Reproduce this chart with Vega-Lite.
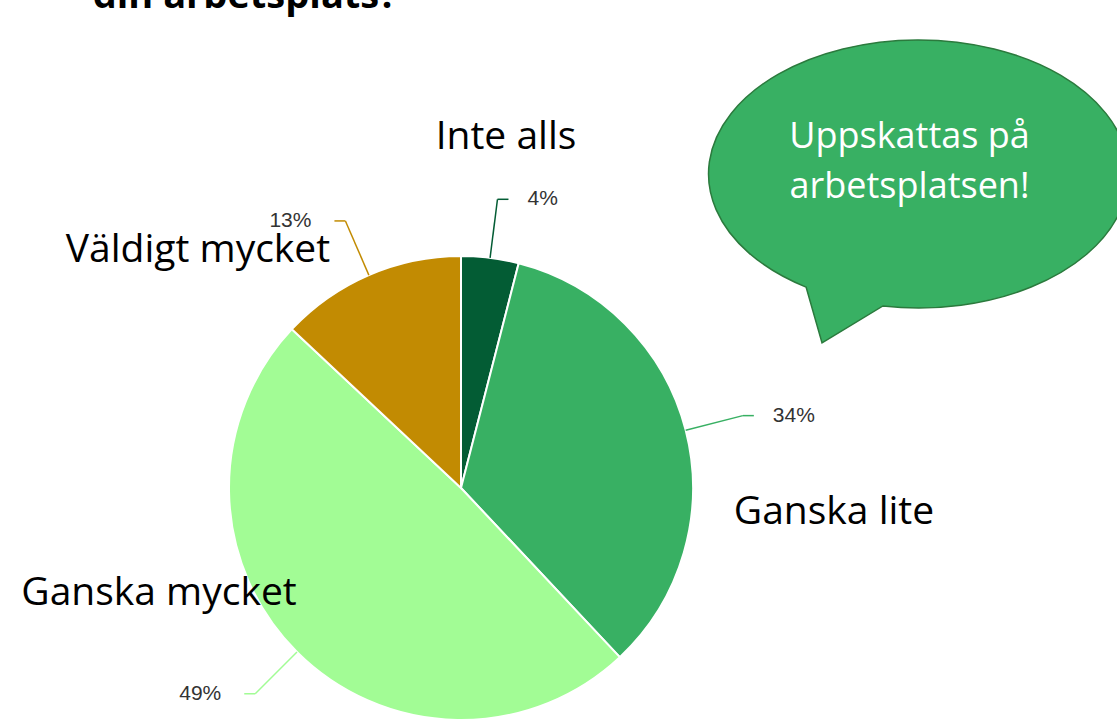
{
  "$schema": "https://vega.github.io/schema/vega-lite/v6.json",
  "autosize": {"type": "none"},
  "width": 464,
  "height": 464,
  "padding": {"left": 229, "top": 256, "right": 424, "bottom": 1},
  "background": "white",
  "config": {"view": {"stroke": null}},
  "data": {
    "values": [
      {"svar": "Inte alls", "andel": 0.04, "ordning": 1},
      {"svar": "Ganska lite", "andel": 0.34, "ordning": 2},
      {"svar": "Ganska mycket", "andel": 0.49, "ordning": 3},
      {"svar": "Väldigt mycket", "andel": 0.13, "ordning": 4}
    ]
  },
  "layer": [
    {
      "data": {"values": [{"t": "Uppskattas på arbetsplatsen!"}]},
      "mark": {
        "type": "point",
        "shape": "M -0.483 0.548 L -0.407 0.814 L -0.117 0.638 A 1 0.638 0 1 0 -0.483 0.548 Z",
        "x": 678.5,
        "y": -84,
        "size": 176400,
        "filled": true,
        "fill": "#38b063",
        "stroke": "#2b7a3d",
        "strokeWidth": 1.5,
        "opacity": 1
      },
      "encoding": {}
    },
    {
      "data": {"values": [{"rad1": "Uppskattas på", "rad2": "arbetsplatsen!"}]},
      "mark": {
        "type": "text",
        "text": ["Uppskattas på", "arbetsplatsen!"],
        "x": 680.5,
        "y": -108,
        "align": "center",
        "baseline": "alphabetic",
        "lineHeight": 50,
        "font": "Open Sans",
        "fontSize": 36,
        "color": "white"
      },
      "encoding": {}
    },
    {
      "data": {"values": [{"rubrik": "din arbetsplats?"}]},
      "mark": {
        "type": "text",
        "x": 16,
        "y": -248,
        "align": "center",
        "baseline": "alphabetic",
        "font": "Open Sans",
        "fontWeight": "bold",
        "fontSize": 38,
        "color": "black"
      },
      "encoding": {"text": {"field": "rubrik"}}
    },
    {
      "mark": {"type": "arc", "stroke": "white", "strokeWidth": 2, "outerRadius": 232},
      "encoding": {
        "theta": {"field": "andel", "type": "quantitative", "stack": true},
        "order": {"field": "ordning", "type": "quantitative"},
        "color": {
          "field": "svar",
          "type": "nominal",
          "scale": {
            "domain": ["Inte alls", "Ganska lite", "Ganska mycket", "Väldigt mycket"],
            "range": ["#035c34", "#38b063", "#a2fc95", "#c28b02"]
          },
          "legend": null
        }
      }
    },
    {
      "transform": [
        {"window": [{"op": "sum", "field": "andel", "as": "kum"}], "sort": [{"field": "ordning"}]},
        {"calculate": "2*PI*(datum.kum - datum.andel/2)", "as": "mid"},
        {"calculate": "232*sin(datum.mid)", "as": "x0"},
        {"calculate": "232*cos(datum.mid)", "as": "y0"},
        {"calculate": "291*sin(datum.mid)", "as": "x1"},
        {"calculate": "291*cos(datum.mid)", "as": "y1"}
      ],
      "mark": {"type": "rule", "strokeWidth": 1.5},
      "encoding": {
        "x": {"field": "x0", "type": "quantitative", "scale": {"domain": [-232, 232], "nice": false, "zero": false}, "axis": null},
        "y": {"field": "y0", "type": "quantitative", "scale": {"domain": [-232, 232], "nice": false, "zero": false}, "axis": null},
        "x2": {"field": "x1"},
        "y2": {"field": "y1"},
        "color": {"field": "svar", "type": "nominal", "legend": null}
      }
    },
    {
      "transform": [
        {"window": [{"op": "sum", "field": "andel", "as": "kum"}], "sort": [{"field": "ordning"}]},
        {"calculate": "2*PI*(datum.kum - datum.andel/2)", "as": "mid"},
        {"calculate": "291*sin(datum.mid)", "as": "x1"},
        {"calculate": "291*cos(datum.mid)", "as": "y1"},
        {"calculate": "datum.x1 + (datum.x1 > 0 ? 11 : -11)", "as": "x2"}
      ],
      "mark": {"type": "rule", "strokeWidth": 1.5},
      "encoding": {
        "x": {"field": "x1", "type": "quantitative"},
        "y": {"field": "y1", "type": "quantitative"},
        "x2": {"field": "x2"},
        "y2": {"field": "y1"},
        "color": {"field": "svar", "type": "nominal", "legend": null}
      }
    },
    {
      "transform": [
        {"window": [{"op": "sum", "field": "andel", "as": "kum"}], "sort": [{"field": "ordning"}]},
        {"calculate": "2*PI*(datum.kum - datum.andel/2)", "as": "mid"},
        {"calculate": "291*sin(datum.mid)", "as": "x1"},
        {"calculate": "291*cos(datum.mid)", "as": "y1"},
        {"filter": "datum.x1 > 0"}
      ],
      "mark": {"type": "text", "align": "left", "baseline": "middle", "dx": 30, "font": "Liberation Sans", "fontSize": 21, "color": "#333333"},
      "encoding": {
        "x": {"field": "x1", "type": "quantitative"},
        "y": {"field": "y1", "type": "quantitative"},
        "text": {"field": "andel", "type": "quantitative", "format": ".0%"}
      }
    },
    {
      "transform": [
        {"window": [{"op": "sum", "field": "andel", "as": "kum"}], "sort": [{"field": "ordning"}]},
        {"calculate": "2*PI*(datum.kum - datum.andel/2)", "as": "mid"},
        {"calculate": "291*sin(datum.mid)", "as": "x1"},
        {"calculate": "291*cos(datum.mid)", "as": "y1"},
        {"filter": "datum.x1 <= 0"}
      ],
      "mark": {"type": "text", "align": "right", "baseline": "middle", "dx": -34, "font": "Liberation Sans", "fontSize": 21, "color": "#333333"},
      "encoding": {
        "x": {"field": "x1", "type": "quantitative"},
        "y": {"field": "y1", "type": "quantitative"},
        "text": {"field": "andel", "type": "quantitative", "format": ".0%"}
      }
    },
    {
      "transform": [{"filter": "datum.svar == 'Inte alls'"}],
      "mark": {"type": "text", "x": 277, "y": -107, "align": "center", "baseline": "alphabetic", "font": "Open Sans", "fontSize": 39, "color": "black"},
      "encoding": {"text": {"field": "svar"}}
    },
    {
      "transform": [{"filter": "datum.svar == 'Ganska lite'"}],
      "mark": {"type": "text", "x": 605, "y": 268, "align": "center", "baseline": "alphabetic", "font": "Open Sans", "fontSize": 39, "color": "black"},
      "encoding": {"text": {"field": "svar"}}
    },
    {
      "transform": [{"filter": "datum.svar == 'Ganska mycket'"}],
      "mark": {"type": "text", "x": -70, "y": 349, "align": "center", "baseline": "alphabetic", "font": "Open Sans", "fontSize": 39, "color": "black"},
      "encoding": {"text": {"field": "svar"}}
    },
    {
      "transform": [{"filter": "datum.svar == 'Väldigt mycket'"}],
      "mark": {"type": "text", "x": -31, "y": 6, "align": "center", "baseline": "alphabetic", "font": "Open Sans", "fontSize": 39, "color": "black"},
      "encoding": {"text": {"field": "svar"}}
    }
  ]
}
